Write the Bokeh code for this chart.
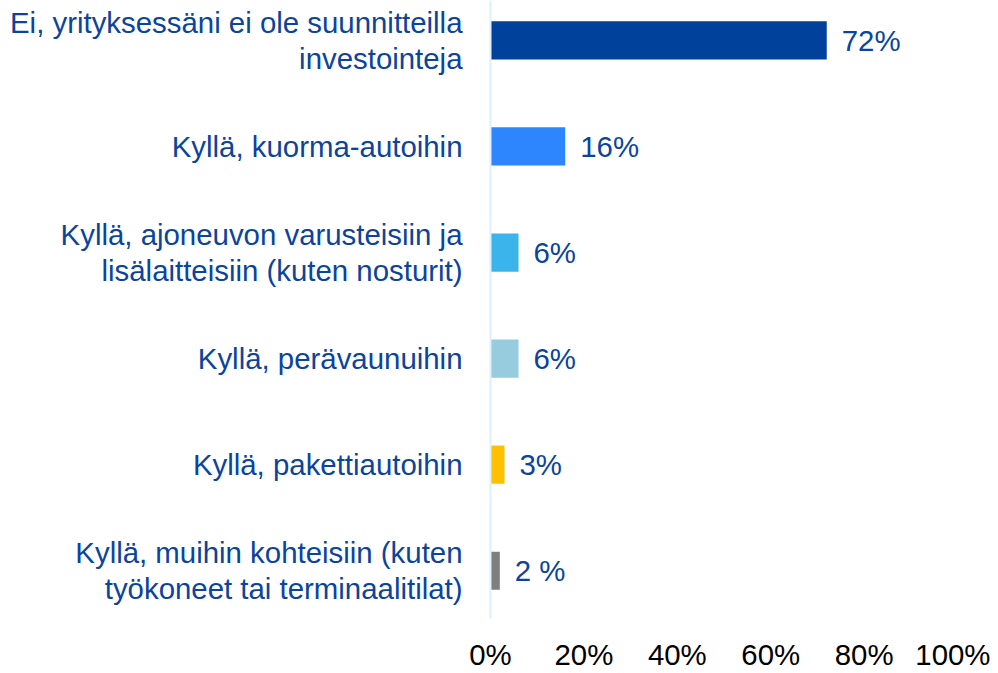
from bokeh.plotting import figure
from bokeh.models import Range1d, FixedTicker, ColumnDataSource
from bokeh.embed import file_html
from bokeh.resources import INLINE
from bokeh.core.properties import value

categories = [
    "Ei, yrityksessäni ei ole suunnitteilla\ninvestointeja",
    "Kyllä, kuorma-autoihin",
    "Kyllä, ajoneuvon varusteisiin ja\nlisälaitteisiin (kuten nosturit)",
    "Kyllä, perävaunuihin",
    "Kyllä, pakettiautoihin",
    "Kyllä, muihin kohteisiin (kuten\ntyökoneet tai terminaalitilat)",
]
values = [72, 16, 6, 6, 3, 2]
value_labels = ["72%", "16%", "6%", "6%", "3%", "2 %"]
colors = ["#00419B", "#2E86FF", "#3AB4EA", "#96CCDE", "#FFC000", "#7F7F7F"]
x_ticks = [0, 20, 40, 60, 80, 100]
x_tick_labels = ["0%", "20%", "40%", "60%", "80%", "100%"]

pos = list(range(len(categories)))
src = ColumnDataSource(dict(y=pos, v=values, lab=value_labels, c=colors))

FONT = "Liberation Sans"
TXT = "#0B449C"
FS = "29.4px"

p = figure(width=990, height=673, output_backend="svg", toolbar_location=None,
           x_range=Range1d(0, 100), y_range=Range1d(5.45, -0.376),
           min_border_left=490, min_border_right=33, min_border_top=0)
p.outline_line_color = None
p.grid.grid_line_color = None
p.background_fill_color = "white"

p.hbar(y="y", right="v", left=0, height=0.36, fill_color="c", line_color=None, source=src)
p.text(x="v", y="y", text="lab", source=src, x_offset=15, text_align="left",
       text_baseline="middle", text_font=value(FONT), text_font_size=FS, text_color=TXT)

ya = p.yaxis[0]
ya.ticker = FixedTicker(ticks=pos)
ya.major_label_overrides = {i: c for i, c in zip(pos, categories)}
ya.axis_line_color = "#DDEFFB"
ya.axis_line_width = 2
ya.major_tick_line_color = None
ya.minor_tick_line_color = None
ya.major_label_standoff = 22
ya.major_label_text_font = FONT
ya.major_label_text_font_size = FS
ya.major_label_text_color = TXT
ya.major_label_text_line_height = 1.1

xa = p.xaxis[0]
xa.ticker = FixedTicker(ticks=x_ticks)
xa.major_label_overrides = {t: l for t, l in zip(x_ticks, x_tick_labels)}
xa.axis_line_color = None
xa.major_tick_line_color = None
xa.minor_tick_line_color = None
xa.major_label_standoff = 13
xa.major_label_text_font = FONT
xa.major_label_text_font_size = FS
xa.major_label_text_color = "#000000"
xa.major_label_text_line_height = 1.0

open("out.html", "w").write(file_html(p, INLINE))
